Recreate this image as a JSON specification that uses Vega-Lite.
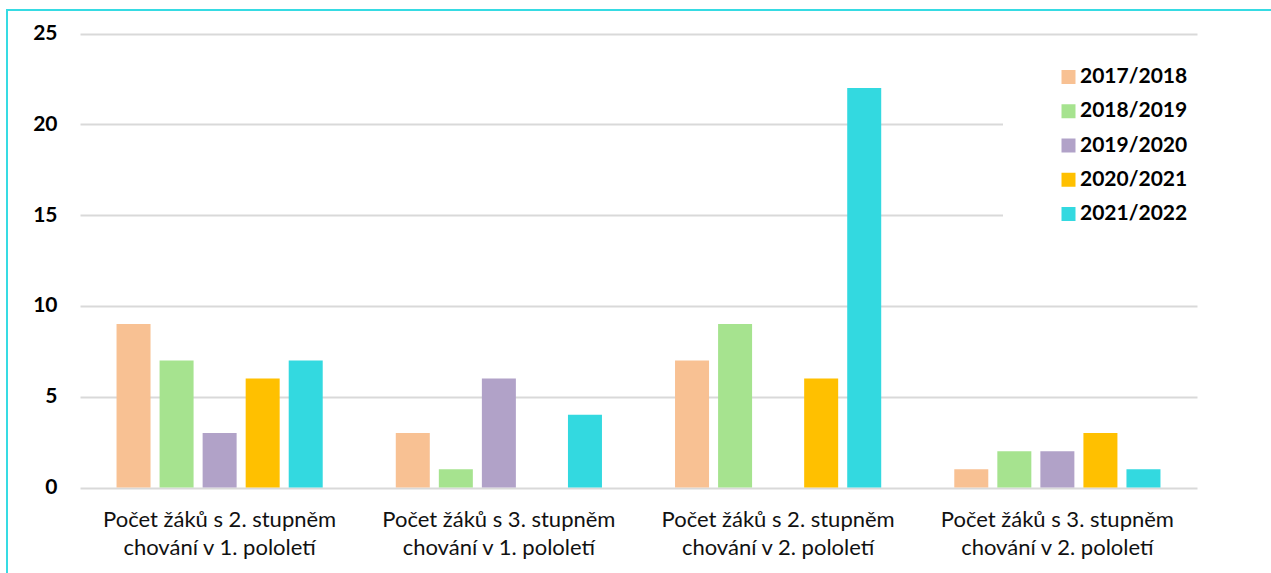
{
  "$schema": "https://vega.github.io/schema/vega-lite/v6.json",
  "width": 1264,
  "height": 563,
  "autosize": {"type": "none"},
  "padding": {"left": 7, "top": 10, "right": 0, "bottom": 0},
  "background": "white",
  "config": {
    "font": "Lato",
    "view": {"stroke": "#36dbe3", "strokeWidth": 2, "strokeDash": [1264, 1827, 563]}
  },
  "data": {
    "values": [
      {"kategorie": "Počet žáků s 2. stupněm chování v 1. pololetí", "rok": "2017/2018", "pocet": 9},
      {"kategorie": "Počet žáků s 2. stupněm chování v 1. pololetí", "rok": "2018/2019", "pocet": 7},
      {"kategorie": "Počet žáků s 2. stupněm chování v 1. pololetí", "rok": "2019/2020", "pocet": 3},
      {"kategorie": "Počet žáků s 2. stupněm chování v 1. pololetí", "rok": "2020/2021", "pocet": 6},
      {"kategorie": "Počet žáků s 2. stupněm chování v 1. pololetí", "rok": "2021/2022", "pocet": 7},
      {"kategorie": "Počet žáků s 3. stupněm chování v 1. pololetí", "rok": "2017/2018", "pocet": 3},
      {"kategorie": "Počet žáků s 3. stupněm chování v 1. pololetí", "rok": "2018/2019", "pocet": 1},
      {"kategorie": "Počet žáků s 3. stupněm chování v 1. pololetí", "rok": "2019/2020", "pocet": 6},
      {"kategorie": "Počet žáků s 3. stupněm chování v 1. pololetí", "rok": "2020/2021", "pocet": 0},
      {"kategorie": "Počet žáků s 3. stupněm chování v 1. pololetí", "rok": "2021/2022", "pocet": 4},
      {"kategorie": "Počet žáků s 2. stupněm chování v 2. pololetí", "rok": "2017/2018", "pocet": 7},
      {"kategorie": "Počet žáků s 2. stupněm chování v 2. pololetí", "rok": "2018/2019", "pocet": 9},
      {"kategorie": "Počet žáků s 2. stupněm chování v 2. pololetí", "rok": "2019/2020", "pocet": 0},
      {"kategorie": "Počet žáků s 2. stupněm chování v 2. pololetí", "rok": "2020/2021", "pocet": 6},
      {"kategorie": "Počet žáků s 2. stupněm chování v 2. pololetí", "rok": "2021/2022", "pocet": 22},
      {"kategorie": "Počet žáků s 3. stupněm chování v 2. pololetí", "rok": "2017/2018", "pocet": 1},
      {"kategorie": "Počet žáků s 3. stupněm chování v 2. pololetí", "rok": "2018/2019", "pocet": 2},
      {"kategorie": "Počet žáků s 3. stupněm chování v 2. pololetí", "rok": "2019/2020", "pocet": 2},
      {"kategorie": "Počet žáků s 3. stupněm chování v 2. pololetí", "rok": "2020/2021", "pocet": 3},
      {"kategorie": "Počet žáků s 3. stupněm chování v 2. pololetí", "rok": "2021/2022", "pocet": 1}
    ]
  },
  "mark": {"type": "bar"},
  "encoding": {
    "x": {
      "field": "kategorie",
      "type": "nominal",
      "sort": null,
      "scale": {"range": [73, 1190], "paddingInner": 0.2, "paddingOuter": 0.1},
      "axis": {
        "title": null,
        "orient": "bottom",
        "offset": -85.5,
        "domain": false,
        "ticks": false,
        "grid": false,
        "labelAngle": 0,
        "labelFont": "Lato",
        "labelFontSize": 22,
        "labelColor": "#111111",
        "labelPadding": 21.5,
        "labelLimit": 0,
        "labelLineHeight": 28,
        "labelExpr": "[slice(datum.label, 0, indexof(datum.label, ' chování')), slice(datum.label, indexof(datum.label, ' chování') + 1)]"
      }
    },
    "xOffset": {
      "field": "rok",
      "type": "nominal",
      "scale": {"paddingInner": 0.21, "paddingOuter": 0.2}
    },
    "y": {
      "field": "pocet",
      "type": "quantitative",
      "scale": {"domain": [0, 25], "nice": false, "range": [477.5, 23.5]},
      "axis": {
        "title": null,
        "orient": "left",
        "offset": -73,
        "values": [0, 5, 10, 15, 20, 25],
        "domain": false,
        "ticks": false,
        "grid": true,
        "gridColor": "#d9d9d9",
        "gridWidth": 2,
        "labelFont": "Lato",
        "labelFontSize": 21,
        "labelFontWeight": "bold",
        "labelColor": "#000000",
        "labelPadding": 23
      }
    },
    "color": {
      "field": "rok",
      "type": "nominal",
      "scale": {
        "domain": ["2017/2018", "2018/2019", "2019/2020", "2020/2021", "2021/2022"],
        "range": ["#f8c193", "#a6e38f", "#b1a2c8", "#ffc000", "#33d9e0"]
      },
      "legend": {
        "title": null,
        "orient": "none",
        "legendX": 996,
        "legendY": 40.5,
        "padding": 16,
        "fillColor": "white",
        "symbolType": "square",
        "symbolSize": 196,
        "symbolStrokeWidth": 0,
        "symbolOffset": 39,
        "labelOffset": 1,
        "labelFont": "Lato",
        "labelFontSize": 21,
        "labelFontWeight": "bold",
        "labelColor": "#000000",
        "rowPadding": 12.25
      }
    }
  }
}
